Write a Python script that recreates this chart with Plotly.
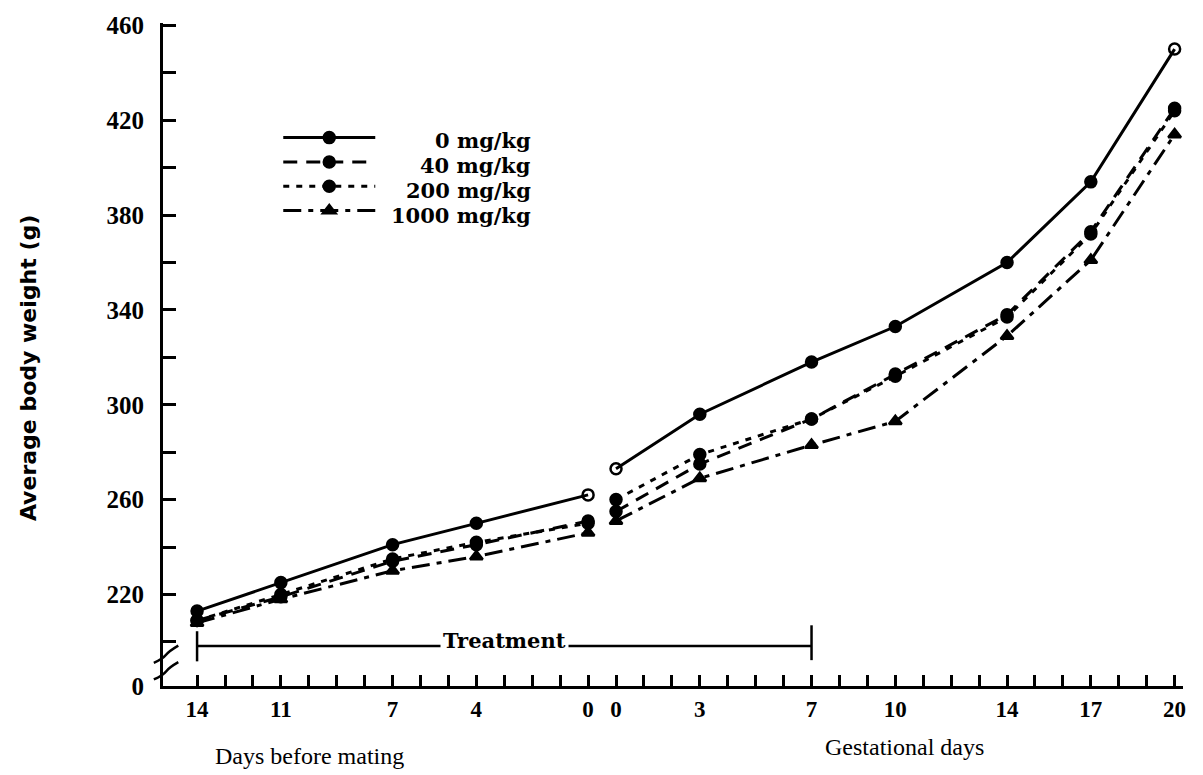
import plotly.graph_objects as go

# ---------------- data ----------------
pre_days = [14, 11, 7, 4, 0]            # days before mating
gest_days = [0, 3, 7, 10, 14, 17, 20]   # gestational days
tick_labels = ["14", "11", "7", "4", "0", "0", "3", "7", "10", "14", "17", "20"]

doses = ["0 mg/kg", "40 mg/kg", "200 mg/kg", "1000 mg/kg"]

w0_pre = [213, 225, 241, 250, 262]
w0_gest = [273, 296, 318, 333, 360, 394, 450]
w40_pre = [209, 219, 234, 241, 251]
w40_gest = [255, 275, 294, 313, 338, 373, 425]
w200_pre = [209, 220, 235, 242, 250]
w200_gest = [260, 279, 294, 312, 337, 372, 424]
w1000_pre = [208, 218, 230, 236, 246]
w1000_gest = [251, 269, 283, 293, 329, 361, 414]

y_tick_vals = [220, 260, 300, 340, 380, 420, 460]
treatment_end_day = 7   # gestational day where treatment ends

# ---------------- positions on a continuous axis ----------------
pre_x = [-d for d in pre_days]
gest_x = [d + 1 for d in gest_days]
x_all = pre_x + [None] + gest_x

Y_BOTTOM = 181.4  # where the broken axis shows "0"

series = [
    (w0_pre, w0_gest, dict(dash="solid"), "circle"),
    (w40_pre, w40_gest, dict(dash="14px,9px"), "circle"),
    (w200_pre, w200_gest, dict(dash="6px,7px"), "circle"),
    (w1000_pre, w1000_gest, dict(dash="18px,7px,5px,7px"), "triangle-up"),
]

fig = go.Figure()
for i, (wp, wg, dash, sym) in enumerate(series):
    ys = wp + [None] + wg
    if i == 0:
        symbols = ["circle"] * len(ys)
        symbols[len(wp) - 1] = "circle-open"
        symbols[len(wp) + 1] = "circle-open"
        symbols[-1] = "circle-open"
    else:
        symbols = [sym] * len(ys)
    fig.add_trace(go.Scatter(
        x=x_all, y=ys, name=" ", mode="lines+markers",
        connectgaps=False,
        line=dict(color="black", width=3, **dash),
        marker=dict(symbol=symbols, size=11, color="black",
                    line=dict(color="black", width=2.5)),
    ))

# ---------------- axes ----------------
x_left, x_right = -15.22, 21.3
fig.update_xaxes(
    range=[x_left, x_right], showgrid=False, zeroline=False,
    showline=True, linecolor="black", linewidth=3,
    tickmode="array", tickvals=pre_x + gest_x, ticktext=tick_labels,
    ticks="inside", ticklen=11, tickwidth=2.5, tickcolor="black",
    tickfont=dict(family="Liberation Serif", size=23, color="black", weight="bold"),
    minor=dict(tickmode="array", tickvals=list(range(-14, 22)),
               ticks="inside", ticklen=11, tickwidth=2.5, tickcolor="black"),
)
fig.update_yaxes(
    range=[Y_BOTTOM, 461], showgrid=False, zeroline=False,
    showline=True, linecolor="black", linewidth=3,
    tickmode="array", tickvals=[Y_BOTTOM] + y_tick_vals,
    ticktext=["0"] + [str(v) for v in y_tick_vals],
    ticks="inside", ticklen=13, tickwidth=2.5, tickcolor="black",
    ticklabelstandoff=11,
    tickfont=dict(family="Liberation Serif", size=25, color="black", weight="bold"),
    minor=dict(tickmode="linear", tick0=200, dtick=20,
               ticks="inside", ticklen=13, tickwidth=2.5, tickcolor="black"),
)

# ---------------- treatment bracket ----------------
t_left = pre_x[0]
t_right = gest_days[gest_days.index(treatment_end_day)] + 1
fig.add_shape(type="line", xref="x", yref="y", x0=t_left, x1=t_right, y0=198.3, y1=198.3,
              line=dict(color="black", width=2.5))
fig.add_shape(type="line", xref="x", yref="y", x0=t_left, x1=t_left, y0=191.8, y1=204.5,
              line=dict(color="black", width=2.5))
fig.add_shape(type="line", xref="x", yref="y", x0=t_right, x1=t_right, y0=192.3, y1=207,
              line=dict(color="black", width=2.5))
fig.add_annotation(x=-2.98, y=200.5, xref="x", yref="y", text="Treatment", showarrow=False,
                   bgcolor="white", borderpad=2, xanchor="center", yanchor="middle",
                   font=dict(family="DejaVu Serif", size=21, color="black", weight="bold"))

# ---------------- axis break marks ----------------
for yp in [0.047, 0.022]:
    fig.add_shape(type="path", xref="paper", yref="paper",
                  path=f"M -0.009 {yp - 0.012} Q 0.0 {yp - 0.006} 0.003 {yp} T 0.015 {yp + 0.014}",
                  line=dict(color="black", width=2.5))

# ---------------- legend labels (right-aligned, as in the original) ----------------
legend_row_y = [0.8234, 0.7859, 0.7485, 0.7111]
for lbl, yy in zip(doses, legend_row_y):
    fig.add_annotation(x=(532 - 163) / 1020, y=yy, xref="paper", yref="paper", text=lbl,
                       showarrow=False, xanchor="right", yanchor="middle",
                       height=24, borderpad=0, valign="middle",
                       font=dict(family="DejaVu Serif", size=21, color="black", weight="bold"))

# ---------------- titles ----------------
fig.add_annotation(x=-0.132, y=0.48, xref="paper", yref="paper", text="Average body weight (g)",
                   textangle=-90, showarrow=False, xanchor="center", yanchor="middle",
                   font=dict(family="DejaVu Sans", size=22, color="black", weight="bold"))
fig.add_annotation(x=0.144, y=-0.106, xref="paper", yref="paper", text="Days before mating",
                   showarrow=False, xanchor="center", yanchor="middle",
                   font=dict(family="Liberation Serif", size=24, color="black"))
fig.add_annotation(x=0.727, y=-0.092, xref="paper", yref="paper", text="Gestational days",
                   showarrow=False, xanchor="center", yanchor="middle",
                   font=dict(family="Liberation Serif", size=24, color="black"))

fig.update_layout(
    width=1203, height=775,
    margin=dict(l=163, r=20, t=18, b=89),
    paper_bgcolor="white", plot_bgcolor="white",
    showlegend=True,
    legend=dict(x=0.113, y=0.853, xanchor="left", yanchor="top", bgcolor="rgba(0,0,0,0)",
                font=dict(family="DejaVu Serif", size=16.4, color="black"),
                tracegroupgap=0, itemwidth=92),
)

fig.write_html("out.html")
